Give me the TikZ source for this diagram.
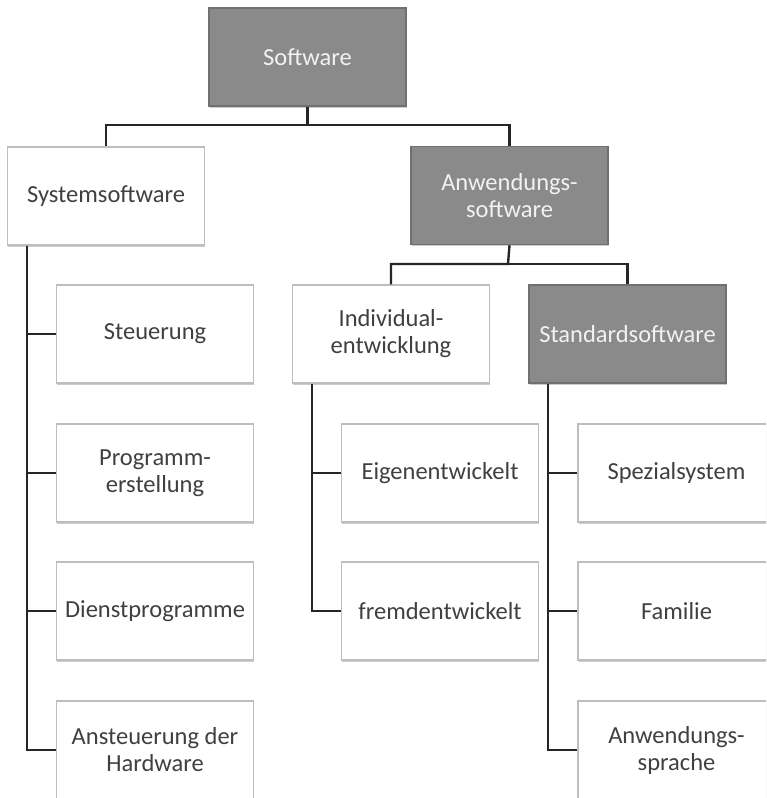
\documentclass[tikz,border=0pt]{standalone}
\usepackage{fontspec}
\setmainfont{Carlito}
\usetikzlibrary{shadows}
\definecolor{boxgray}{RGB}{138,138,138}
\definecolor{boxgrayedge}{RGB}{112,112,112}
\definecolor{lightedge}{RGB}{190,190,190}
\definecolor{txt}{RGB}{64,64,64}
\begin{document}
\begin{tikzpicture}[x=1pt,y=-1pt,
  box/.style={rectangle, minimum width=197pt, minimum height=98pt, inner sep=2pt,
    align=center, font=\fontsize{24.5}{27}\selectfont,
    drop shadow={shadow xshift=0.8pt, shadow yshift=-1.5pt, opacity=0.2, fill=black}},
  whitebox/.style={box, draw=lightedge, line width=1.2pt, fill=white, text=txt},
  graybox/.style={box, draw=boxgrayedge, line width=1.5pt, fill=boxgray, text=white!95!black},
  conn/.style={draw=black!85, line width=2.4pt}]
\clip (0,0) rectangle (766,798);
\fill[white] (0,0) rectangle (766,798);

\node[graybox]  (sw)   at (307.5,57)  {Software};
\node[whitebox] (sys)  at (106,196)   {Systemsoftware};
\node[graybox]  (anw)  at (509.5,195.5) {Anwendungs-\\software};

\node[whitebox] (steu) at (155,334) {Steuerung};
\node[whitebox] (prog) at (155,473) {Programm-\\erstellung};
\node[whitebox] (dien) at (155,611) {Dienstprogramme};
\node[whitebox] (anst) at (155,750) {Ansteuerung der\\Hardware};

\node[whitebox] (ind)  at (391,334)   {Individual-\\entwicklung};
\node[graybox]  (std)  at (627.5,334) {Standardsoftware};

\node[whitebox] (eig)  at (440,473) {Eigenentwickelt};
\node[whitebox] (frem) at (440,611) {fremdentwickelt};

\node[whitebox] (spez) at (676.5,473) {Spezialsystem};
\node[whitebox] (fam)  at (676.5,611) {Familie};
\node[whitebox] (spr)  at (676.5,750) {Anwendungs-\\sprache};

\coordinate (j1) at (307.5,125);
\coordinate (j2) at (508,264);

\draw[conn] (sw.south) -- (j1) -| (sys.north);
\draw[conn] (j1) -| (anw.north);
\draw[conn] (anw.south) -- (j2) -| (ind.north);
\draw[conn] (j2) -| (std.north);

\draw[conn] ([xshift=20pt]sys.south west) |- (anst.west);
\draw[conn] ([xshift=20pt]sys.south west) |- (steu.west);
\draw[conn] ([xshift=20pt]sys.south west) |- (prog.west);
\draw[conn] ([xshift=20pt]sys.south west) |- (dien.west);

\draw[conn] ([xshift=20pt]ind.south west) |- (frem.west);
\draw[conn] ([xshift=20pt]ind.south west) |- (eig.west);

\draw[conn] ([xshift=20pt]std.south west) |- (spr.west);
\draw[conn] ([xshift=20pt]std.south west) |- (spez.west);
\draw[conn] ([xshift=20pt]std.south west) |- (fam.west);
\end{tikzpicture}
\end{document}
